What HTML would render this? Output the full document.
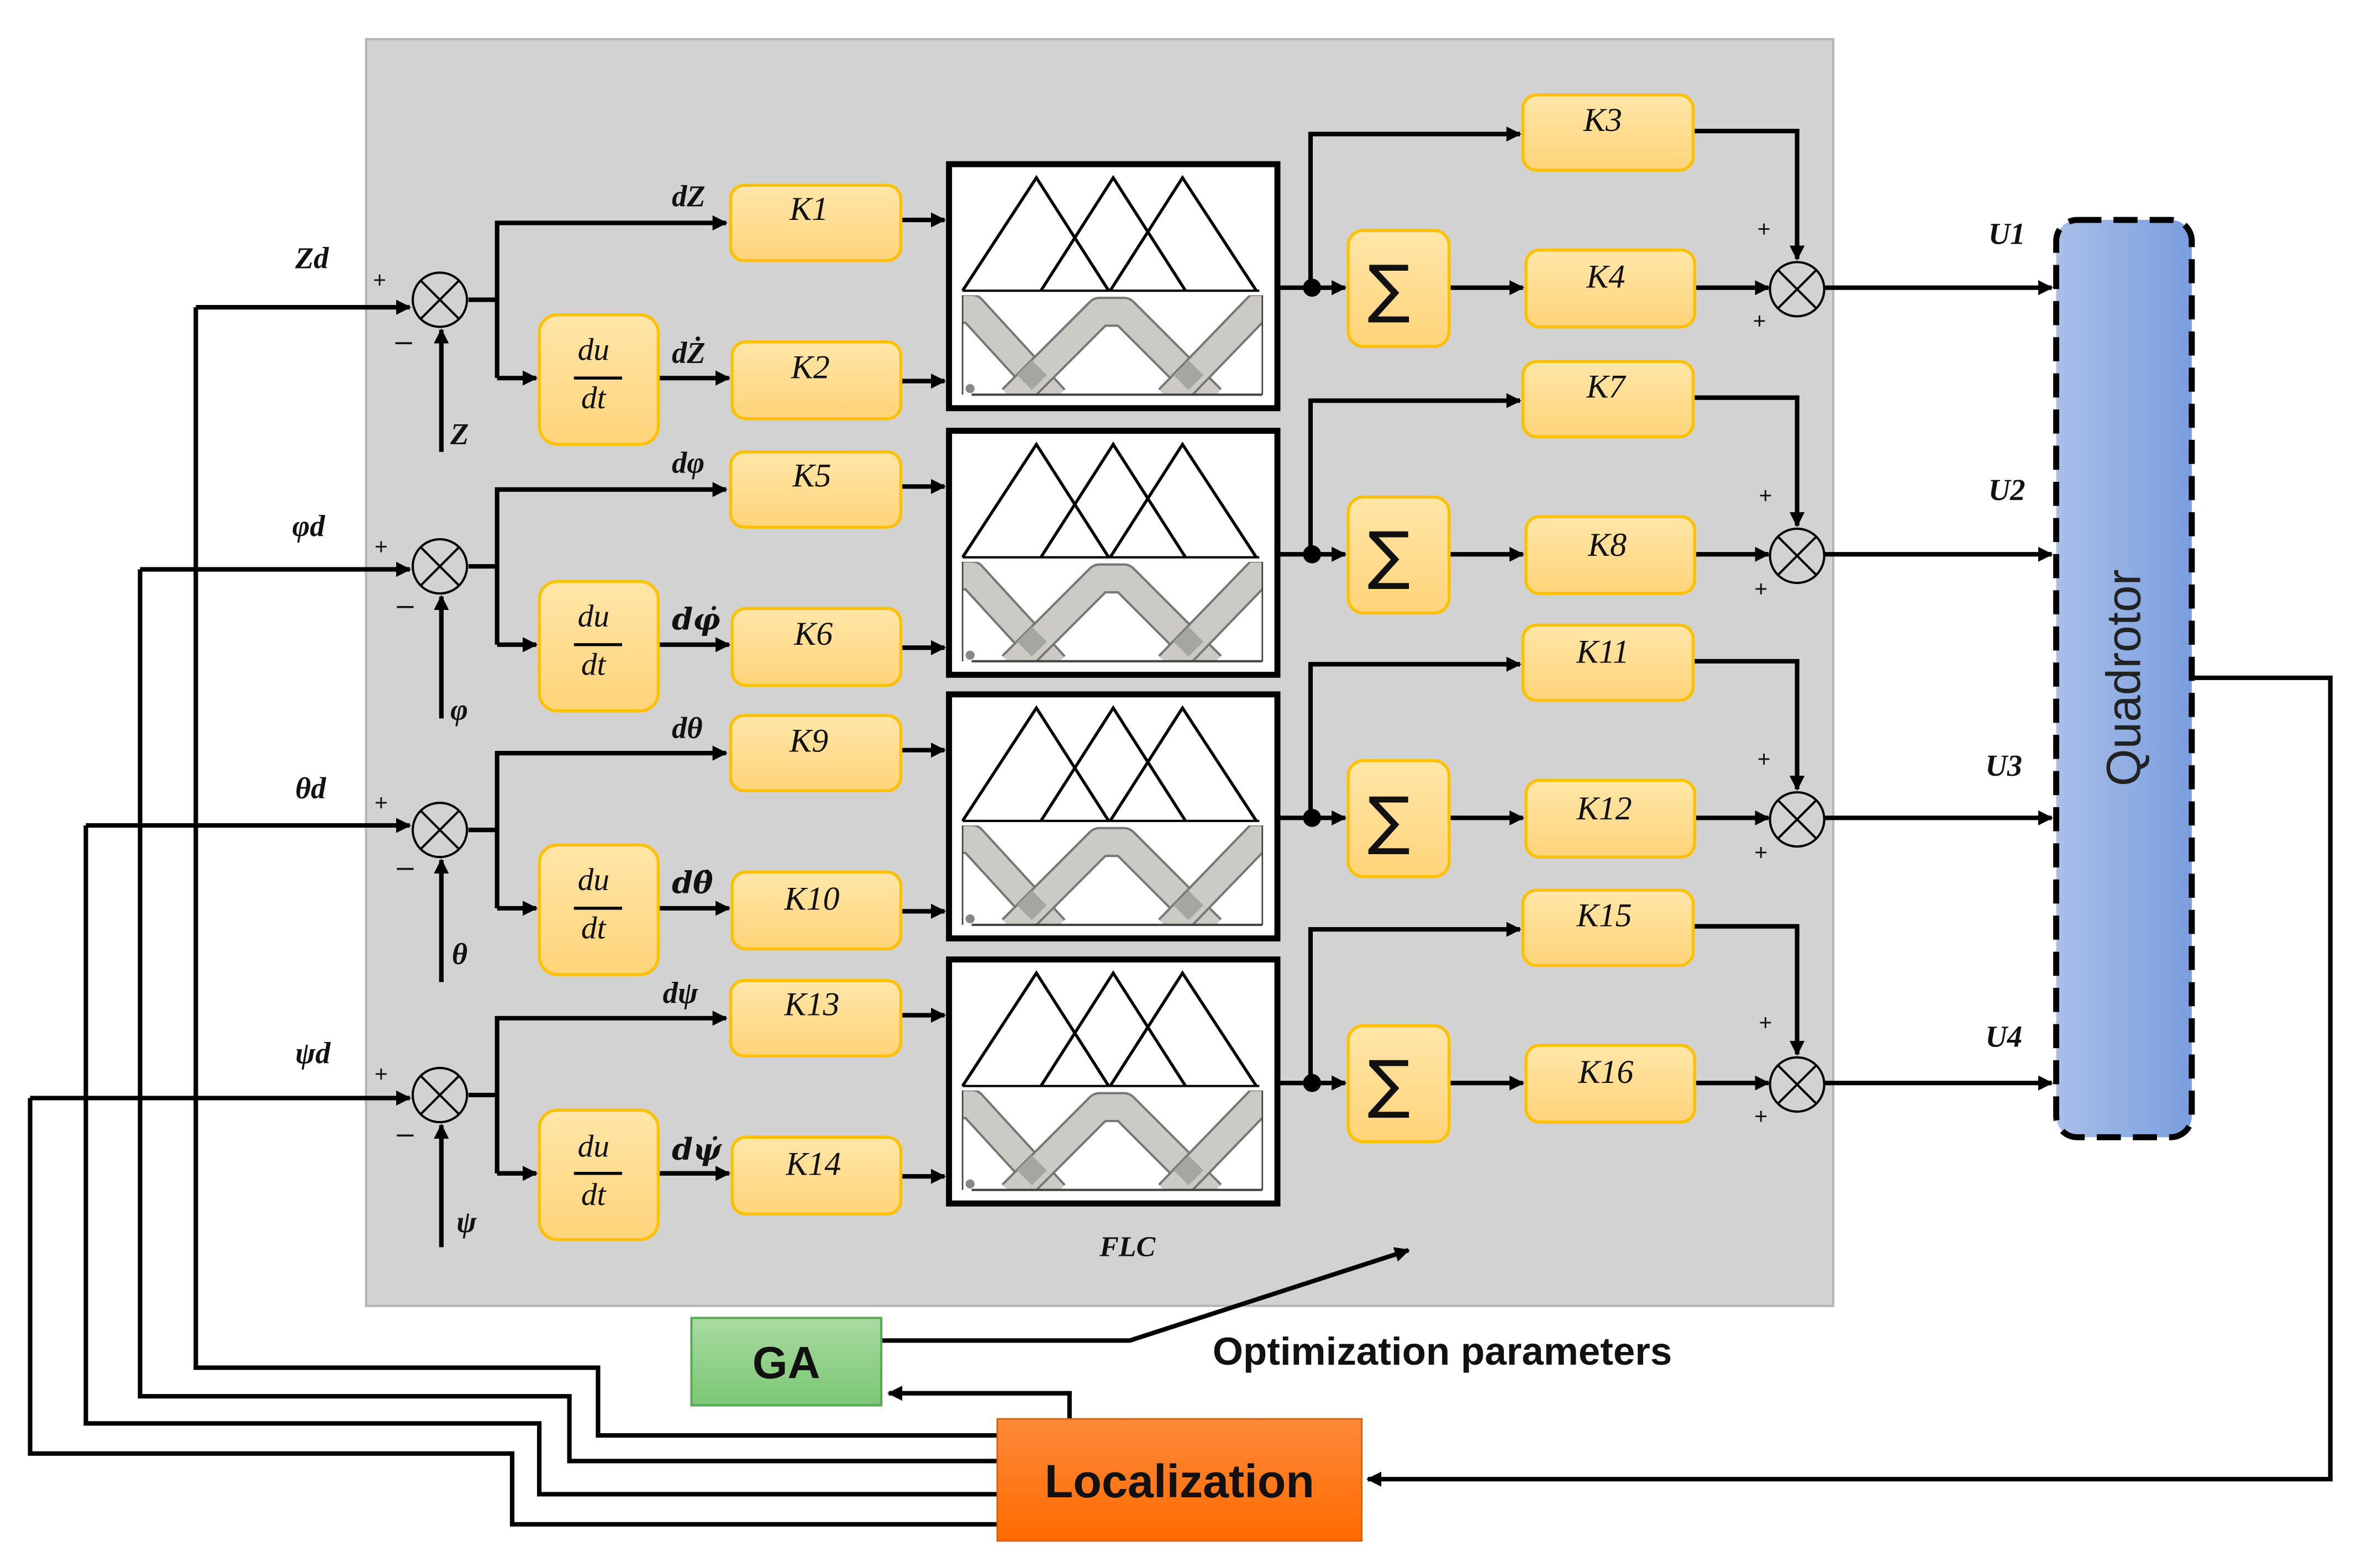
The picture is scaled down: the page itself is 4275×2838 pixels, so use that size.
<!DOCTYPE html>
<html><head><meta charset="utf-8"><style>
html,body{margin:0;padding:0;background:#fff;}
svg{display:block;}
</style></head><body>
<svg width="4275" height="2838" viewBox="0 0 1568 1041" preserveAspectRatio="none" xmlns="http://www.w3.org/2000/svg">
<defs>
<marker id="a" viewBox="0 0 10 10" refX="9" refY="5" markerWidth="10" markerHeight="10" markerUnits="userSpaceOnUse" orient="auto"><path d="M0,0 L10,5 L0,10 z" fill="#000"/></marker>
<linearGradient id="kg" x1="0" y1="0" x2="0" y2="1"><stop offset="0" stop-color="#ffe6a8"/><stop offset="1" stop-color="#ffd47a"/></linearGradient>
<linearGradient id="qg" x1="0" y1="0" x2="1" y2="0"><stop offset="0" stop-color="#a9bfe9"/><stop offset="1" stop-color="#7a9ede"/></linearGradient>
<linearGradient id="lg" x1="0" y1="0" x2="0" y2="1"><stop offset="0" stop-color="#ff8a3a"/><stop offset="1" stop-color="#ff6a00"/></linearGradient>
<linearGradient id="gg" x1="0" y1="0" x2="0" y2="1"><stop offset="0" stop-color="#a8dba0"/><stop offset="1" stop-color="#7cc775"/></linearGradient>
<clipPath id="lp"><rect x="639" y="196" width="199" height="66"/></clipPath>
<g id="flc">
<rect x="630" y="109" width="218" height="162" fill="#fff" stroke="#000" stroke-width="4"/>
<polyline points="639,193 688,118 736,193" fill="none" stroke="#000" stroke-width="2"/>
<polyline points="691,193 739,118 787,193" fill="none" stroke="#000" stroke-width="2"/>
<polyline points="737,193 785,118 834,193" fill="none" stroke="#000" stroke-width="2"/>
<line x1="639" y1="193" x2="836" y2="193" stroke="#000" stroke-width="1.5"/>
<g clip-path="url(#lp)">
<polyline points="630,205 645,205 700,265" fill="none" stroke="#777" stroke-width="20" stroke-linejoin="round"/>
<polyline points="630,205 645,205 700,265" fill="none" stroke="#cbcac5" stroke-width="17" stroke-linejoin="round"/>
<polyline points="672,265 730,207 746,207 804,265" fill="none" stroke="#777" stroke-width="20" stroke-linejoin="round"/>
<polyline points="672,265 730,207 746,207 804,265" fill="none" stroke="#cbcac5" stroke-width="17" stroke-linejoin="round"/>
<polyline points="776,265 834,205 845,205" fill="none" stroke="#777" stroke-width="20"/>
<polyline points="776,265 834,205 845,205" fill="none" stroke="#cbcac5" stroke-width="17"/>
<rect x="678" y="242" width="14" height="14" fill="#a5a5a2" transform="rotate(45 685 249)"/>
<rect x="782" y="242" width="14" height="14" fill="#a5a5a2" transform="rotate(45 789 249)"/>
</g>
<line x1="639" y1="196" x2="639" y2="262" stroke="#444" stroke-width="1"/>
<line x1="838" y1="196" x2="838" y2="262" stroke="#444" stroke-width="1"/>
<line x1="645" y1="262" x2="838" y2="262" stroke="#444" stroke-width="1.5"/>
<circle cx="644" cy="258" r="3" fill="#888"/>
</g>
<g id="wires">
<line x1="293" y1="300" x2="293" y2="219" marker-end="url(#a)"/>
<polyline points="311,199 330,199"/>
<polyline points="330,251 330,148 482,148" marker-end="url(#a)"/>
<line x1="330" y1="251" x2="356" y2="251" marker-end="url(#a)"/>
<line x1="437" y1="251" x2="484" y2="251" marker-end="url(#a)"/>
<line x1="598" y1="146" x2="627" y2="146" marker-end="url(#a)"/>
<line x1="598" y1="253" x2="627" y2="253" marker-end="url(#a)"/>
<line x1="849" y1="191" x2="893" y2="191" marker-end="url(#a)"/>
<polyline points="870,191 870,89 1009,89" marker-end="url(#a)"/>
<line x1="962" y1="191" x2="1011" y2="191" marker-end="url(#a)"/>
<line x1="1125" y1="191" x2="1174" y2="191" marker-end="url(#a)"/>
<polyline points="1124,87 1193,87 1193,172" marker-end="url(#a)"/>
<line x1="1211" y1="191" x2="1362" y2="191" marker-end="url(#a)"/>
</g>
<g id="blk">
<circle cx="292" cy="199" r="18" fill="none" stroke="#000" stroke-width="1.5"/>
<path d="M279,186 L305,212 M305,186 L279,212" stroke="#000" stroke-width="1.5"/>
<rect x="485" y="123" width="113" height="50" rx="9" fill="url(#kg)" stroke="#ffc000" stroke-width="2"/>
<rect x="358" y="209" width="79" height="86" rx="12" fill="url(#kg)" stroke="#ffc000" stroke-width="2"/>
<line x1="381" y1="251" x2="413" y2="251" stroke="#000" stroke-width="2"/>
<rect x="486" y="227" width="112" height="51" rx="9" fill="url(#kg)" stroke="#ffc000" stroke-width="2"/>
<use href="#flc"/>
<circle cx="871" cy="191" r="6" fill="#000"/>
<rect x="895" y="153" width="67" height="77" rx="10" fill="url(#kg)" stroke="#ffc000" stroke-width="2"/>
<rect x="1011" y="63" width="113" height="50" rx="9" fill="url(#kg)" stroke="#ffc000" stroke-width="2"/>
<rect x="1013" y="166" width="112" height="51" rx="9" fill="url(#kg)" stroke="#ffc000" stroke-width="2"/>
<circle cx="1193" cy="192" r="18" fill="none" stroke="#000" stroke-width="1.5"/>
<path d="M1180,179 L1206,205 M1206,179 L1180,205" stroke="#000" stroke-width="1.5"/>
</g>
</defs>

<rect x="243" y="26" width="974" height="841" fill="#d2d2d2" stroke="#b5b5b5" stroke-width="1.5"/>

<g stroke="#000" stroke-width="3" fill="none">
<line x1="130" y1="204" x2="272" y2="204" marker-end="url(#a)"/>
<line x1="93" y1="378" x2="272" y2="378" marker-end="url(#a)"/>
<line x1="57" y1="548" x2="272" y2="548" marker-end="url(#a)"/>
<line x1="20" y1="729" x2="272" y2="729" marker-end="url(#a)"/>
<use href="#wires"/>
<use href="#wires" transform="translate(0,177)"/>
<use href="#wires" transform="translate(0,352)"/>
<use href="#wires" transform="translate(0,528)"/>
<polyline points="130,204 130,908 397,908 397,953 662,953"/>
<polyline points="93,378 93,927 378,927 378,970 662,970"/>
<polyline points="57,548 57,945 358,945 358,992 662,992"/>
<polyline points="20,729 20,965 340,965 340,1012 662,1012"/>
<polyline points="1455,450 1547,450 1547,982 908,982" marker-end="url(#a)"/>
<polyline points="710,942 710,925 590,925" marker-end="url(#a)"/>
<polyline points="585,890 750,890 935,830" marker-end="url(#a)"/>
</g>

<use href="#blk"/>
<use href="#blk" transform="translate(0,177)"/>
<use href="#blk" transform="translate(0,352)"/>
<use href="#blk" transform="translate(0,528)"/>

<rect x="1365" y="146" width="90" height="609" rx="14" fill="url(#qg)" stroke="#000" stroke-width="4" stroke-dasharray="16,8"/>
<text x="1410" y="450" transform="rotate(-90 1410 450)" text-anchor="middle" dominant-baseline="central" font-family="Liberation Sans, sans-serif" font-size="32" fill="#222">Quadrotor</text>
<rect x="459" y="875" width="126" height="58" fill="url(#gg)" stroke="#5aaa55" stroke-width="1.5"/>
<text x="522" y="915" text-anchor="middle" font-family="Liberation Sans, sans-serif" font-weight="bold" font-size="30" fill="#111">GA</text>
<rect x="662" y="942" width="242" height="81" fill="url(#lg)" stroke="#e05a00" stroke-width="1"/>
<text x="783" y="994" text-anchor="middle" font-family="Liberation Sans, sans-serif" font-weight="bold" font-size="31" fill="#111">Localization</text>
<text x="805" y="906" font-family="Liberation Sans, sans-serif" font-weight="bold" font-size="26" fill="#111" textLength="305">Optimization parameters</text>

<g font-family="Liberation Serif, serif" font-style="italic" font-weight="bold" font-size="20" fill="#111">
<text x="196" y="178">Zd</text>
<text x="194" y="356">φd</text>
<text x="196" y="530">θd</text>
<text x="196" y="706">ψd</text>
<text x="299" y="295">Z</text>
<text x="299" y="478">φ</text>
<text x="300" y="640">θ</text>
<text x="303" y="818">ψ</text>
<text x="446" y="137">dZ</text>
<text x="446" y="314">dφ</text>
<text x="446" y="490">dθ</text>
<text x="440" y="666">dψ</text>
<text x="446" y="241">dŻ</text>
<text x="446" y="418" font-family="DejaVu Serif, serif">dφ̇</text>
<text x="446" y="593" font-family="DejaVu Serif, serif">dθ̇</text>
<text x="446" y="770" font-family="DejaVu Serif, serif">dψ̇</text>
<text x="730" y="834" font-size="19">FLC</text>
<text x="1320" y="162">U1</text>
<text x="1320" y="332">U2</text>
<text x="1318" y="515">U3</text>
<text x="1318" y="695">U4</text>
</g>
<g font-family="Liberation Serif, serif" font-style="italic" font-size="22" fill="#111" text-anchor="middle">
<text x="537" y="146">K1</text><text x="538" y="251">K2</text>
<text x="539" y="323">K5</text><text x="540" y="428">K6</text>
<text x="537" y="499">K9</text><text x="539" y="604">K10</text>
<text x="539" y="674">K13</text><text x="540" y="780">K14</text>
<text x="1064" y="87">K3</text><text x="1066" y="191">K4</text>
<text x="1066" y="264">K7</text><text x="1067" y="369">K8</text>
<text x="1064" y="440">K11</text><text x="1065" y="544">K12</text>
<text x="1065" y="615">K15</text><text x="1066" y="719">K16</text>
<text x="394" y="239" font-size="21">du</text><text x="394" y="271" font-size="21">dt</text>
<text x="394" y="416" font-size="21">du</text><text x="394" y="448" font-size="21">dt</text>
<text x="394" y="591" font-size="21">du</text><text x="394" y="623" font-size="21">dt</text>
<text x="394" y="768" font-size="21">du</text><text x="394" y="800" font-size="21">dt</text>
</g>
<g font-family="DejaVu Sans, sans-serif" font-size="42" fill="#111" text-anchor="middle">
<text x="922" y="206">∑</text><text x="922" y="383">∑</text><text x="922" y="559">∑</text><text x="922" y="734">∑</text>
</g>
<g font-family="Liberation Sans, sans-serif" font-size="15" fill="#111" text-anchor="middle">
<text x="252" y="191">+</text><text x="268" y="233" font-size="20">–</text>
<text x="253" y="368">+</text><text x="269" y="408" font-size="20">–</text>
<text x="253" y="538">+</text><text x="269" y="582" font-size="20">–</text>
<text x="253" y="718">+</text><text x="269" y="759" font-size="20">–</text>
<text x="1171" y="157">+</text><text x="1168" y="218">+</text>
<text x="1172" y="334">+</text><text x="1169" y="396">+</text>
<text x="1171" y="509">+</text><text x="1169" y="571">+</text>
<text x="1172" y="684">+</text><text x="1169" y="746">+</text>
</g>
</svg>
</body></html>
